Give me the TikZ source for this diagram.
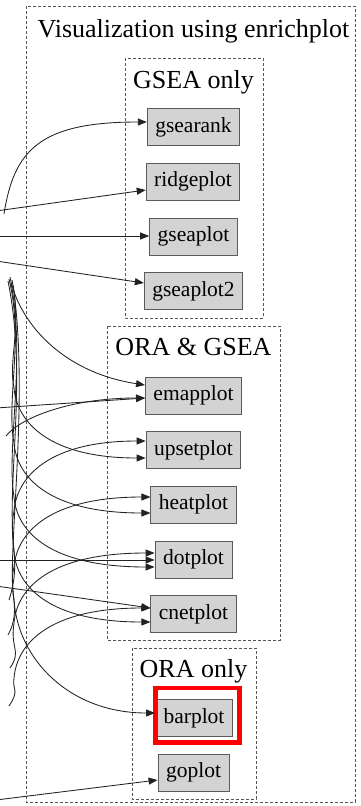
\documentclass[tikz,border=0pt]{standalone}
\usepackage{fontspec}
\setmainfont{Liberation Serif}
\usetikzlibrary{arrows.meta}
\definecolor{nodefill}{HTML}{D3D3D3}
\definecolor{nodeline}{HTML}{5A5A5A}
\definecolor{clusterline}{HTML}{555555}
\definecolor{edgecol}{HTML}{222222}
\begin{document}
\begin{tikzpicture}[x=1pt,y=-1pt,
  plotnode/.style={draw=nodeline, fill=nodefill, line width=0.9pt,
    minimum height=37pt, inner xsep=8pt, inner ysep=0pt,
    font=\fontsize{21.5}{24}\selectfont},
  cluster/.style={draw=clusterline, dash pattern=on 3pt off 2pt, line width=0.8pt},
  ctitle/.style={anchor=base, inner sep=0pt, font=\fontsize{26}{30}\selectfont},
  edge/.style={draw=edgecol, line width=0.85pt, -{Triangle[length=9pt,width=7pt]}},
]
\fill[white] (0,0) rectangle (360,806);
\useasboundingbox (0,0) rectangle (360,806);
\clip (0,0) rectangle (360,806);

% clusters
\draw[cluster] (26,6) rectangle (355,802);
\node[ctitle] (tmain) at (193.5,37) {Visualization using enrichplot};
\draw[cluster] (125,58) rectangle (263,318);
\node[ctitle] (tgsea) at (193.5,88) {GSEA only};
\draw[cluster] (107,326) rectangle (280,640);
\node[ctitle] (tboth) at (193.5,355) {ORA \& GSEA};
\draw[cluster] (132,648) rectangle (256,799);
\node[ctitle] (tora) at (193.5,677) {ORA only};

% plot functions
\node[plotnode] (gsearank)  at (193.5,127)   {gsearank};
\node[plotnode] (ridgeplot) at (193,181.5)   {ridgeplot};
\node[plotnode] (gseaplot)  at (193.5,236.5) {gseaplot};
\node[plotnode] (gseaplot2) at (193.5,291)   {gseaplot2};
\node[plotnode] (emapplot)  at (193.5,395.5) {emapplot};
\node[plotnode] (upsetplot) at (193.5,450)   {upsetplot};
\node[plotnode] (heatplot)  at (193.5,504.5) {heatplot};
\node[plotnode] (dotplot)   at (193.5,559.5) {dotplot};
\node[plotnode] (cnetplot)  at (193.5,614)   {cnetplot};
\node[plotnode] (barplot)   at (194,718)     {barplot};
\node[plotnode] (goplot)    at (193.5,772.5) {goplot};

% highlight
\draw[red, line width=4.5pt] (155.3,688) rectangle (239.3,742.5);

% incoming edge ends (sources lie to the left)
\coordinate (s1) at (4,214);
\coordinate (s2) at (-4,211);
\coordinate (s3) at (-4,236);
\coordinate (s4) at (-4,261);
\coordinate (s5) at (-4,408);
\coordinate (s6) at (-4,560);
\coordinate (s7) at (-4,586);
\coordinate (s8) at (-4,800);
\coordinate (a1) at (10,277);
\coordinate (a2) at (12,280);
\coordinate (a3) at (9,279);
\coordinate (a4) at (11,283);
\coordinate (a5) at (8,281);
\coordinate (a6) at (13,285);
\coordinate (b1) at (6,436);
\coordinate (b2) at (9,600);
\coordinate (b3) at (8,635);
\coordinate (b4) at (10,668);
\coordinate (b5) at (9,706);

% GSEA only
\draw[edge] (s1) .. controls (14,150) and (40,122) .. (gsearank.west |- 0,122);
\draw[edge] (s2) -- (ridgeplot.west |- 0,190);
\draw[edge] (s3) -- (gseaplot.west |- 0,236);
\draw[edge] (s4) -- (gseaplot2.west |- 0,283);

% ORA & GSEA
\draw[edge] (a1) .. controls (18,320) and (60,372) .. (emapplot.west |- 0,385);
\draw[edge] (s5) -- (emapplot.west |- 0,398);
\draw[edge] (b1) .. controls (20,418) and (70,398) .. (emapplot.west |- 0,398);

\draw[edge] (a2) .. controls (22,330) and (8,360) .. (14,388)
  .. controls (17,423) and (50,458) .. (upsetplot.west |- 0,458);
\draw[edge] (b2) .. controls (22,560) and (8,540) .. (14,511)
  .. controls (17,476) and (50,441) .. (upsetplot.west |- 0,441);

\draw[edge] (a3) .. controls (24,340) and (6,400) .. (14,443)
  .. controls (17,478) and (50,513) .. (heatplot.west |- 0,513);
\draw[edge] (b3) .. controls (22,610) and (8,590) .. (14,567)
  .. controls (17,532) and (50,497) .. (heatplot.west |- 0,497);

\draw[edge] (a4) .. controls (26,360) and (6,450) .. (14,497)
  .. controls (17,532) and (50,567) .. (dotplot.west |- 0,567);
\draw[edge] (s6) -- (dotplot.west |- 0,560);
\draw[edge] (b4) .. controls (22,650) and (10,650) .. (14,623)
  .. controls (17,588) and (50,553) .. (dotplot.west |- 0,553);

\draw[edge] (a5) .. controls (28,380) and (6,480) .. (14,552)
  .. controls (17,587) and (50,622) .. (cnetplot.west |- 0,622);
\draw[edge] (s7) -- (cnetplot.west |- 0,608);
\draw[edge] (b5) .. controls (20,690) and (12,690) .. (14,678)
  .. controls (17,643) and (50,608) .. (cnetplot.west |- 0,608);

% ORA only
\draw[edge] (a6) .. controls (30,400) and (6,560) .. (14,600)
  .. controls (18,660) and (70,713) .. (barplot.west |- 0,713);
\draw[edge] (s8) -- (goplot.west |- 0,780);
\end{tikzpicture}
\end{document}
